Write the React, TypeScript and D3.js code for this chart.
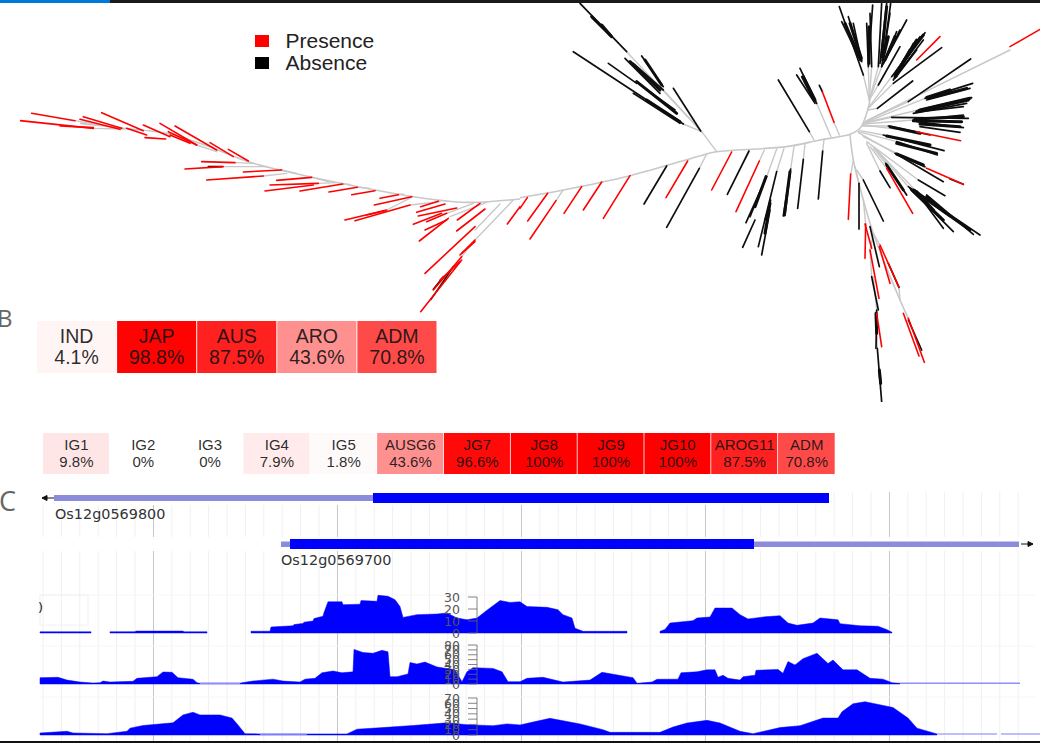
import React from 'react';
import * as d3 from 'd3';

// tree branches, [x1, y1, x2, y2] in tree units (3 units = 1 px), west and east halves
type Seg = number[];
const westStems: Seg[] = [
  [1425,720,1540,600],[1350,650,1460,607],[1385,770,1425,720],[1230,615,1320,605],[1160,630,1235,592],
  [1340,640,1420,610],[790,528,860,520],[845,510,890,520],[705,488,760,490],[670,500,800,500],
  [935,532,985,545],[955,550,1010,548],[590,435,650,455],[225,362,300,375],[280,385,370,387],[1072,562,1110,565],
  [1425,690,1500,612],[1028,552,1050,553],[1195,584,1210,582],
];
const westRed: Seg[] = [
  [95,340,225,362],[60,362,280,385],[180,378,280,383],[240,358,360,388],[250,350,365,385],[305,338,430,392],
  [380,385,440,405],[430,375,510,410],[435,413,497,417],[480,370,590,435],[525,378,650,450],[505,395,590,435],
  [510,405,570,430],[630,428,700,470],[685,448,745,483],[605,485,705,488],[555,507,670,500],[730,516,845,510],
  [620,540,790,528],[830,541,935,532],[810,555,955,550],[795,573,940,555],[900,573,1028,552],[987,576,1072,562],
  [1055,584,1125,572],[1140,595,1195,584],[1123,615,1235,590],[1035,660,1160,630],[1065,662,1230,615],[1100,645,1155,632],
  [1262,620,1315,604],[1250,637,1335,612],[1255,648,1370,624],[1240,673,1325,640],[1280,665,1340,640],[1275,690,1340,660],
  [1258,723,1345,655],[1372,660,1440,610],[1370,693,1455,627],[1275,820,1425,680],[1380,765,1425,720],[1300,870,1385,770],
  [1262,935,1385,780],[1522,672,1560,620],[1385,760,1425,725],[1320,840,1380,785],
];
const westBlack: Seg[] = [[625,500,665,500],[1300,868,1330,830],[1293,898,1360,800]];

const backboneWest: [number, number][] = [[240,370],[370,385],[500,400],[600,430],[745,485],[840,510],[1000,545],[1240,590],[1400,607],[1560,597]];
const backboneEast: [number, number][] = [[0,593],[130,570],[330,527],[560,462],[590,455],[800,440],[900,420],[990,403],[1020,385],[1040,340],[1050,300]];
const southStem: [number, number][] = [[990,405],[1000,480],[1030,600],[1060,700],[1140,900],[1165,955]];

const eastStems: Seg[] = [
  [108,602,128,572],[538,505,560,462],[718,483,733,450],[740,530,770,447],[770,515,792,445],[812,507,822,440],
  [850,478,855,432],[908,453,912,420],[868,395,882,420],[890,310,933,410],[942,367,958,405],[545,395,590,455],
  [320,155,545,395],[490,372,545,395],[430,270,545,395],[1030,225,1048,300],[1045,200,1048,300],[1055,200,1048,300],
  [1075,200,1048,300],[1085,200,1048,300],[1075,255,1048,300],[1115,230,1048,320],[1120,250,1045,325],[1072,325,1045,330],
  [1470,150,1040,362],[1165,305,1035,365],[1215,295,1035,368],[1195,330,1035,368],[1115,352,1032,370],[1180,360,1030,372],
  [1190,395,1030,375],[1105,378,1028,378],[1090,405,1020,392],[1130,425,1015,395],[1125,460,1015,398],[1220,505,1030,410],
  [1195,540,1040,425],[1080,513,1040,430],[1100,505,1050,440],[1097,490,1060,445],[1165,560,1060,440],[1185,570,1070,450],
  [1000,480,993,522],[1017,550,1005,500],[1030,540,1010,510],[1037,672,1030,600],[1060,700,1080,735],[1060,700,1050,750],
  [1055,830,1050,750],[1070,930,1060,830],[1072,1045,1070,930],[1137,862,1140,900],
];
const eastRed: Seg[] = [
  [0,625,22,593],[23,663,83,580],[30,717,108,602],[132,640,185,560],[190,630,245,546],[250,655,330,527],
  [438,593,503,483],[575,570,635,456],[648,635,718,483],[907,275,942,367],[1560,88,1470,140],[1260,110,1190,180],
  [1322,422,1190,395],[1330,553,1220,505],[1178,640,1100,505],[985,658,992,522],[1035,775,1037,672],[1055,745,1035,672],
  [1110,850,1078,740],[1137,862,1080,735],[1077,895,1050,750],[1085,1040,1070,940],[1213,1087,1165,955],[1197,1068,1150,940],
];
const eastBlack: Seg[] = [
  [372,612,440,498],[440,682,538,505],[622,583,687,453],[668,742,705,660],[678,668,740,530],[690,650,735,540],
  [715,740,770,515],[725,765,750,630],[735,660,752,600],[790,648,812,507],[795,645,810,520],[833,625,850,478],[895,597,908,453],
  [180,10,320,155],[160,155,490,372],[265,190,350,250],[315,175,420,280],[340,190,430,270],[365,168,430,260],
  [350,245,470,340],[355,250,465,330],[340,280,480,370],[460,265,542,393],[380,300,480,365],
  [775,240,868,395],[840,205,890,310],[830,225,885,310],[845,230,880,300],[898,256,907,275],
  [958,20,1030,225],[965,65,1020,180],[985,50,1025,180],[1000,70,1025,185],[1058,15,1045,200],[1040,70,1045,195],
  [1050,40,1055,200],[1085,10,1075,200],[1100,10,1080,190],[1112,10,1090,170],[1110,40,1085,200],[1160,60,1085,200],
  [1140,90,1090,190],[1130,95,1095,180],[1140,140,1075,255],[1215,98,1115,230],[1200,110,1120,240],[1180,130,1130,230],
  [1210,120,1130,225],[1190,150,1125,235],[1265,143,1120,250],[1178,243,1072,325],
  [1352,177,1165,305],[1358,250,1215,295],[1350,265,1220,300],[1355,293,1195,330],[1340,310,1180,340],[1330,320,1200,335],
  [1345,355,1115,352],[1330,345,1180,360],[1330,383,1190,365],[1320,397,1200,380],[1230,405,1105,378],[1272,452,1090,405],
  [1252,465,1130,425],[1270,545,1125,460],[1215,500,1130,462],[1275,587,1195,540],[1110,563,1080,513],[1160,585,1097,490],
  [1380,705,1165,560],[1360,703,1220,585],[1300,695,1170,565],[1270,685,1185,570],[1290,650,1220,600],[1330,553,1290,537],
  [1017,687,1017,550],[1090,663,1030,540],[1078,800,1050,680],[1075,930,1055,830],[1068,1045,1070,930],[1085,1205,1072,1045],
  [1205,1050,1165,960],[1082,1150,1080,1125],[1137,862,1105,790],
];
// the dense bundles of tips, which read as solid black in the picture
const eastBundles: Seg[] = [
  [975,70,1022,180],[990,70,1024,175],[1047,80,1047,190],[1100,20,1085,170],[1105,110,1088,180],[1125,110,1095,180],
  [1190,120,1125,225],[1200,115,1130,215],[1170,150,1125,230],[1210,105,1150,185],
  [1340,265,1225,295],[1350,295,1200,330],[1345,300,1190,335],[1330,350,1185,357],[1325,365,1180,362],[1320,380,1200,372],
  [1290,270,1220,292],[1200,400,1110,380],[1230,435,1100,408],[1250,460,1130,430],[1210,495,1130,462],
  [1350,690,1180,570],[1270,660,1175,570],[1280,640,1220,590],[1240,630,1190,575],[1150,570,1100,495],
  [350,245,470,340],[380,300,480,365],[330,185,420,270],[375,180,425,255],[215,50,270,105],[245,75,275,110],
  [705,620,738,530],[735,700,750,610],[793,645,810,515],[850,230,885,300],[1070,1000,1068,940],[1082,1150,1078,1110],
];

const legendLabels = ['Presence', 'Absence'];
const legendColors = ['#ff0000', '#000000'];

const groupNames = ['IND', 'JAP', 'AUS', 'ARO', 'ADM'];
const groupValues = [4.1, 98.8, 87.5, 43.6, 70.8];
const subNames = ['IG1', 'IG2', 'IG3', 'IG4', 'IG5', 'AUSG6', 'JG7', 'JG8', 'JG9', 'JG10', 'AROG11', 'ADM'];
const subValues = [9.8, 0, 0, 7.9, 1.8, 43.6, 96.6, 100, 100, 100, 87.5, 70.8];
const subWidths = [1, 1, 1, 1, 1, 1, 1, 1, 1, 1, 1, 0.86];

// coverage tracks, [position, reads]
type Pt = [number, number];
const track1: Pt[][] = [
  [[40,1],[91,1]],
  [[110,1],[135,1.1],[136,1.6],[183,1.6],[184,1],[207,1]],
  [[251,1.4],[270,1.5],[271,5],[293,6],[294,7],[303,8],[304,9],[313,10],[314,12],[323,14],[324,17],[328,26],[342,26],[343,23.6],[360,24],[361,27],[377,26.4],[378,31.4],[388,30.6],[395,27.8],[400,22],[403,13],[417,15.3],[437,15.8],[447,16.7],[457,12.5],[467,11],[477,12.5],[487,19],[500,27],[510,25.5],[520,26],[527,22],[547,21.4],[558,19.4],[563,15.3],[572,12.5],[575,4],[583,1.4],[627,1.4]],
  [[660,1.4],[665,3],[670,8.3],[693,10.3],[697,12.5],[710,13.3],[715,20.8],[732,20.8],[740,15.3],[748,11.7],[765,13.5],[780,14.4],[788,8.3],[797,6.4],[813,8.3],[820,12.5],[838,11],[840,7.8],[860,6],[878,5.6],[887,2.8],[892,0.6]],
];
const track2: Pt[] = [[40,13],[58,13.7],[67,8],[80,4],[93,2],[100,2.7],[103,6],[110,4],[133,5.5],[137,11.6],[157,15],[163,24.6],[172,24],[178,13],[193,9.6],[197,2.7],[200,1.4],[240,1.4],[242,2.7],[253,6],[273,10],[283,6],[300,4],[305,10],[315,11.6],[322,23],[333,26.6],[342,23],[353,25],[354,71],[363,64.5],[373,63],[382,69],[388,66],[390,15],[397,15],[408,20.5],[410,44],[417,41],[425,45],[437,35],[455,29],[462,4.8],[467,25],[473,33.5],[493,32],[502,25],[508,4.8],[520,4.8],[527,11.6],[543,13.7],[563,4],[590,8],[602,24],[633,13],[637,1.4],[652,4],[657,9.6],[678,10],[681,23],[697,25],[707,29],[715,29],[718,13.7],[723,18],[728,11.6],[740,8],[743,15],[755,18],[756,28],[778,30],[783,22],[788,46],[795,39],[803,52],[817,63],[828,42],[833,49],[843,29],[857,29],[870,11.6],[883,10],[892,2.7],[900,1.4]];
const track3: Pt[] = [[40,3.8],[67,7],[73,3.8],[107,2.5],[127,7],[130,13],[143,18],[173,23],[183,38],[193,43],[200,38],[220,38],[232,32],[238,19],[245,2.5],[260,2],[347,2],[357,11],[383,14],[413,18],[447,23],[467,19.5],[493,17.6],[507,21],[520,19],[533,24.5],[550,31.5],[580,21],[603,10],[610,5],[660,5],[673,15],[687,22.7],[707,27.7],[720,22.7],[740,7],[753,2.5],[780,14],[800,17.6],[823,32],[838,32],[842,44],[853,59],[865,63],[893,52],[908,32],[917,13],[937,2]];
const faintRuns2: Pt[] = [[200,1.4],[240,1.4],[900,1.4],[1020,1.4]];
const faintRuns3: Pt[] = [[260,2],[307,2],[937,2],[997,2],[1001,2],[1040,2]];

const geneLabels = ['Os12g0569800', 'Os12g0569700'];
const FONT = '"Liberation Sans", Arial, sans-serif';

const App: React.FC = () => {
  const x = d3.scaleLinear().domain([0, 1040]).range([0, 1040]);
  const treeW = d3.scaleLinear().domain([0, 1560]).range([0, 520]);
  const treeE = d3.scaleLinear().domain([0, 1560]).range([520, 1040]);
  const treeY = d3.scaleLinear().domain([0, 1230]).range([0, 410]);
  const heat = d3.scaleLinear<string>().domain([0, 100]).range(['#ffffff', '#ff0000']);

  const groupX = d3.scaleBand().domain(groupNames).range([37, 436.5]).paddingInner(0.012);
  const subEdges = d3.cumsum(subWidths);
  const subX = d3.scaleLinear().domain([0, subEdges[subEdges.length - 1]]).range([43, 835.5]);
  const subLeft = (i: number) => subX(i === 0 ? 0 : subEdges[i - 1]);
  const subRight = (i: number) => subX(subEdges[i]);

  const y1 = d3.scaleLinear().domain([0, 30]).range([633, 597]);
  const y2 = d3.scaleLinear().domain([0, 80]).range([684, 645]);
  const y3 = d3.scaleLinear().domain([0, 70]).range([735, 698]);

  const area = (y: d3.ScaleLinear<number, number>) =>
    d3.area<Pt>().x(d => x(d[0])).y0(y(0)).y1(d => y(d[1]));

  const lineW = d3.line<[number, number]>().x(d => treeW(d[0])).y(d => treeY(d[1])).curve(d3.curveCatmullRom);
  const lineE = d3.line<[number, number]>().x(d => treeE(d[0])).y(d => treeY(d[1])).curve(d3.curveCatmullRom);

  const segs = (data: Seg[], sx: d3.ScaleLinear<number, number>, color: string, w: number) =>
    data.map((s, i) => (
      <line key={i} x1={sx(s[0])} y1={treeY(s[1])} x2={sx(s[2])} y2={treeY(s[3])} stroke={color} strokeWidth={w} strokeLinecap="round" />
    ));

  const majors = d3.range(153.5, 1000, 184);
  const minors = d3.range(43, 1021, 18.4);

  const axis = (y: d3.ScaleLinear<number, number>, step: number) => (
    <g>
      <line x1={477} x2={477} y1={y(0)} y2={y.range()[1]} stroke="#666" strokeWidth={0.8} />
      {d3.range(0, y.domain()[1] + 1, step).map(t => (
        <g key={t}>
          <line x1={468} x2={477} y1={y(t)} y2={y(t)} stroke="#666" strokeWidth={0.8} />
          <text x={460} y={y(t) + 4.5} textAnchor="end" fontSize={12.5} fill="#555" fontFamily="DejaVu Sans">{t}</text>
        </g>
      ))}
    </g>
  );

  return (
    <svg width={1040} height={743} viewBox="0 0 1040 743" style={{ position: 'absolute', left: 0, top: 0, background: '#fff' }}>
      <defs>
        <filter id="soft" x="0" y="0" width="1" height="1">
          <feGaussianBlur stdDeviation="0.5" />
        </filter>
      </defs>

      {/* A: tree */}
      <g filter="url(#soft)">
        <g fill="none" stroke="#c8c8c8" strokeWidth={1.6}>
          <path d={lineW(backboneWest) || ''} />
          <path d={lineE(backboneEast) || ''} />
          <path d={lineE(southStem) || ''} />
        </g>
        {segs(westStems, treeW, '#c8c8c8', 1.4)}
        {segs(eastStems, treeE, '#c8c8c8', 1.4)}
        {segs(westBlack, treeW, '#111', 1.6)}
        {segs(eastBlack, treeE, '#111', 1.7)}
        {segs(eastBundles, treeE, '#0a0a0a', 3)}
        {segs(westRed, treeW, '#ff0000', 1.6)}
        {segs(eastRed, treeE, '#ff0000', 1.6)}
      </g>

      {legendLabels.map((d, i) => (
        <g key={d}>
          <rect x={255} y={35 + i * 22} width={14} height={12} fill={legendColors[i]} />
          <text x={285.5} y={48 + i * 22} fontSize={21} fill="#222" fontFamily={FONT}>{d}</text>
        </g>
      ))}

      {/* B: heat rows */}
      <text x={-3} y={327} fontSize={24} fill="#666" fontFamily="Open Sans">B</text>
      {groupNames.map((d, i) => (
        <g key={d}>
          <rect x={groupX(d)} y={321} width={groupX.bandwidth()} height={52} fill={heat(groupValues[i])} />
          <text x={groupX(d)! + groupX.bandwidth() / 2} y={343} textAnchor="middle" fontSize={19.5} fill="#111" fillOpacity={0.9} fontFamily={FONT}>{d}</text>
          <text x={groupX(d)! + groupX.bandwidth() / 2} y={364} textAnchor="middle" fontSize={19.5} fill="#111" fillOpacity={0.9} fontFamily={FONT}>{groupValues[i]}%</text>
        </g>
      ))}
      {subNames.map((d, i) => (
        <g key={d}>
          <rect x={subLeft(i)} y={433} width={subRight(i) - subLeft(i) - 0.8} height={41} fill={heat(subValues[i])} />
          <text x={(subLeft(i) + subRight(i)) / 2} y={450} textAnchor="middle" fontSize={15} fill="#111" fillOpacity={0.9} fontFamily={FONT}>{d}</text>
          <text x={(subLeft(i) + subRight(i)) / 2} y={467} textAnchor="middle" fontSize={15} fill="#111" fillOpacity={0.9} fontFamily={FONT}>{subValues[i]}%</text>
        </g>
      ))}

      {/* C: browser tracks */}
      <text x={-1} y={511} fontSize={27} fill="#666" fontFamily="Open Sans">C</text>
      {minors.map((d, i) => (
        <line key={i} x1={x(d)} x2={x(d)} y1={492} y2={741} stroke="#f0f0f0" strokeWidth={1} />
      ))}
      {majors.map((d, i) => (
        <line key={i} x1={x(d)} x2={x(d)} y1={492} y2={741} stroke="#c8c8c8" strokeWidth={1} />
      ))}
      {[595, 646, 697].map(d => (
        <line key={d} x1={40} x2={1035} y1={d} y2={d} stroke="#f6f6f6" strokeWidth={1} />
      ))}
      <rect x={40} y={595} width={48} height={30} fill="none" stroke="#f0f0f0" strokeWidth={1} />
      <text x={38} y={612} fontSize={13} fill="#222" fontFamily="DejaVu Sans">)</text>

      {/* gene models sit on a white band that hides the grid */}
      <rect x={40} y={490} width={790} height={15} fill="#fff" />
      <rect x={40} y={537} width={1000} height={14} fill="#fff" />

      <rect x={x(54)} y={495} width={x(373) - x(54)} height={6} fill="#8c8cdc" />
      <rect x={x(373)} y={493} width={x(829) - x(373)} height={10} fill="#0000ff" />
      <path d="M42,498L54,498M42,498L47,495.5L47,500.5Z" stroke="#111" strokeWidth={1} fill="#111" />
      <text x={55} y={519} fontSize={14.4} fill="#333" fontFamily="DejaVu Sans">{geneLabels[0]}</text>

      <rect x={x(281)} y={541.5} width={x(290) - x(281)} height={5.5} fill="#8c8cdc" />
      <rect x={x(290)} y={539} width={x(754) - x(290)} height={10} fill="#0000ff" />
      <rect x={x(754)} y={541.5} width={x(1019) - x(754)} height={5.5} fill="#8c8cdc" />
      <path d="M1021,544L1033,544M1033,544L1028,541.5L1028,546.5Z" stroke="#111" strokeWidth={1} fill="#111" />
      <text x={281} y={565} fontSize={14.4} fill="#333" fontFamily="DejaVu Sans">{geneLabels[1]}</text>

      {track1.map((seg, i) => (
        <path key={i} d={area(y1)(seg) || ''} fill="#0000ff" stroke="#0000ff" strokeWidth={0.5} />
      ))}
      <path d={area(y2)(track2) || ''} fill="#0000ff" stroke="#0000ff" strokeWidth={0.5} />
      <path d={area(y3)(track3) || ''} fill="#0000ff" stroke="#0000ff" strokeWidth={0.5} />
      {d3.range(0, faintRuns2.length, 2).map(i => (
        <line key={i} x1={x(faintRuns2[i][0])} x2={x(faintRuns2[i + 1][0])} y1={y2(faintRuns2[i][1])} y2={y2(faintRuns2[i + 1][1])} stroke="#8f8fff" strokeWidth={1.5} />
      ))}
      {d3.range(0, faintRuns3.length, 2).map(i => (
        <line key={i} x1={x(faintRuns3[i][0])} x2={x(faintRuns3[i + 1][0])} y1={y3(faintRuns3[i][1])} y2={y3(faintRuns3[i + 1][1])} stroke="#a8a8ff" strokeWidth={1.5} />
      ))}
      {axis(y1, 10)}
      {axis(y2, 10)}
      {axis(y3, 10)}

      {/* window chrome along the edges */}
      <rect x={0} y={0} width={1040} height={3} fill="#1a1a1a" />
      <rect x={0} y={0} width={110} height={3} fill="#0078d7" />
      <rect x={0} y={741} width={1040} height={2} fill="#111" />
    </svg>
  );
};

export default App;
